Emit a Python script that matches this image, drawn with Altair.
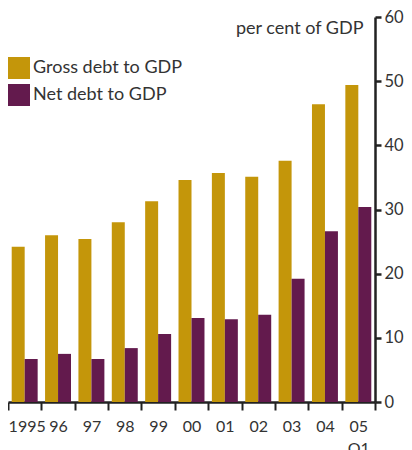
import altair as alt
import pandas as pd

years = ["1995", "96", "97", "98", "99", "00", "01", "02", "03", "04", "05 Q1"]
gross = [24.2, 26.0, 25.4, 28.0, 31.3, 34.6, 35.7, 35.1, 37.6, 46.4, 49.4]
net = [6.7, 7.5, 6.7, 8.4, 10.6, 13.1, 12.9, 13.6, 19.2, 26.6, 30.4]
series = ["Gross debt to GDP", "Net debt to GDP"]
colors = ["#C4960A", "#631A4D"]

rows = []
for i, y in enumerate(years):
    rows.append({"year": y, "series": series[0], "value": gross[i]})
    rows.append({"year": y, "series": series[1], "value": net[i]})
df = pd.DataFrame(rows)

FONT = "Lato"
FS = 18

chart = alt.Chart(df).mark_bar().encode(
    x=alt.X("year:N", sort=years,
            scale=alt.Scale(paddingInner=0, paddingOuter=0),
            axis=alt.Axis(title=None, tickBand="extent", labelAngle=0,
                          labelExpr="datum.label == '05 Q1' ? ['05', 'Q1'] : datum.label",
                          labelOffset={"condition": {"test": "datum.value == '1995'", "value": 2}, "value": 0},
                          tickSize=8, tickWidth=2, tickColor="#222",
                          domainColor="#222", domainWidth=2.5,
                          labelFontSize=16, labelColor="#333", labelFont=FONT,
                          labelPadding=8, labelLineHeight=22)),
    xOffset=alt.XOffset("series:N", sort=series,
                        scale=alt.Scale(paddingInner=0, paddingOuter=0.285)),
    y=alt.Y("value:Q",
            scale=alt.Scale(domain=[0, 60], nice=False),
            axis=alt.Axis(orient="right", values=[0, 10, 20, 30, 40, 50, 60],
                          grid=False, tickSize=6, tickWidth=2.5, tickColor="#222",
                          domainColor="#222", domainWidth=2.5,
                          labelFontSize=16.5, labelColor="#333", labelFont=FONT,
                          labelPadding=3,
                          title="per cent of GDP", titleAngle=0, titleAlign="right",
                          titleBaseline="alphabetic", titleX=-12, titleY=16,
                          titleFontSize=FS, titleFontWeight="normal",
                          titleColor="#333", titleFont=FONT)),
    color=alt.Color("series:N", sort=series,
                    scale=alt.Scale(domain=series, range=colors),
                    legend=alt.Legend(title=None, orient="none", legendX=0, legendY=40,
                                      symbolType="square", symbolSize=484,
                                      symbolStrokeWidth=0, labelFontSize=FS,
                                      labelFont=FONT, labelColor="#333",
                                      labelOffset=3, rowPadding=5)),
).properties(
    width=367, height=385,
    autosize=alt.AutoSizeParams(type="none"),
    padding={"left": 0, "top": 9, "right": 29, "bottom": 48},
).configure_view(stroke=None)

chart.save("out.html", embed_options={"renderer": "svg", "actions": False})
